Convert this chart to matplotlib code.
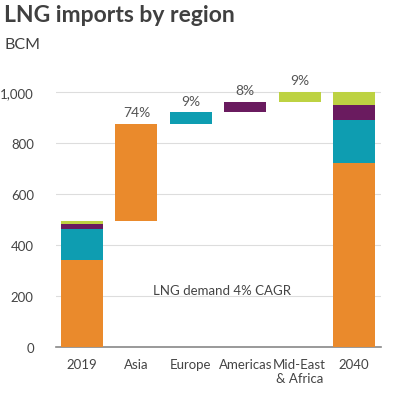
import matplotlib
matplotlib.use('Agg')
import matplotlib.pyplot as plt
import numpy as np

plt.rcParams['font.family'] = ['Lato', 'DejaVu Sans']

categories = ["2019", "Asia", "Europe", "Americas", "Mid-East\n& Africa", "2040"]
regions = ["Asia", "Europe", "Americas", "Mid-East & Africa"]
colors = ["#EA8A2C", "#0E9DB1", "#6A1B5F", "#BDD242"]

start_2019 = [341, 122, 19, 12]
growth = [380, 46, 40, 40]
growth_share = ["74%", "9%", "8%", "9%"]
end_2040 = [721, 168, 59, 52]

fig = plt.figure(figsize=(3.93, 4.14), dpi=100)
ax = fig.add_axes([56 / 393, 1 - 348 / 414, 325 / 393, 288 / 414])

width = 0.77
x = np.arange(len(categories))

# stacked start and end bars
bottom = 0
for val, col in zip(start_2019, colors):
    ax.bar(x[0], val, width, bottom=bottom, color=col, zorder=3)
    bottom += val
bottom = 0
for val, col in zip(end_2040, colors):
    ax.bar(x[-1], val, width, bottom=bottom, color=col, zorder=3)
    bottom += val

# floating increments
level = sum(start_2019)
for i, (val, col, lab) in enumerate(zip(growth, colors, growth_share)):
    ax.bar(x[i + 1], val, width, bottom=level, color=col, zorder=3)
    level += val
    ax.text(x[i + 1], level + 22, lab, ha='center', va='bottom',
            fontsize=10, color='#555555')

ax.text(2.57, 224, "LNG demand 4% CAGR", ha='center', va='center',
        fontsize=9.5, color='#444444')

ax.set_xlim(-0.478, 5.496)
ax.set_ylim(0, 1129)
ax.set_yticks([0, 200, 400, 600, 800, 1000])
ax.set_yticklabels(["0", "200", "400", "600", "800", "1,000"])
ax.set_xticks(x)
ax.set_xticklabels(categories)
ax.tick_params(length=0, labelsize=9.5, colors='#444444')
ax.tick_params(axis='x', pad=8)
ax.tick_params(axis='y', pad=16)
ax.grid(axis='y', color='#DDDDDD', linewidth=0.8, zorder=0)
for s in ['top', 'right', 'left']:
    ax.spines[s].set_visible(False)
ax.spines['bottom'].set_color('#888888')
ax.spines['bottom'].set_linewidth(1.2)

fig.text(4 / 393, 1 - 16 / 414, "LNG imports by region", fontsize=16.5,
         fontweight='bold', color='#404040', ha='left', va='center')
fig.text(4 / 393, 1 - 45 / 414, "BCM", fontsize=11.5, color='#404040',
         ha='left', va='center')

fig.savefig("out.png", dpi=100)
